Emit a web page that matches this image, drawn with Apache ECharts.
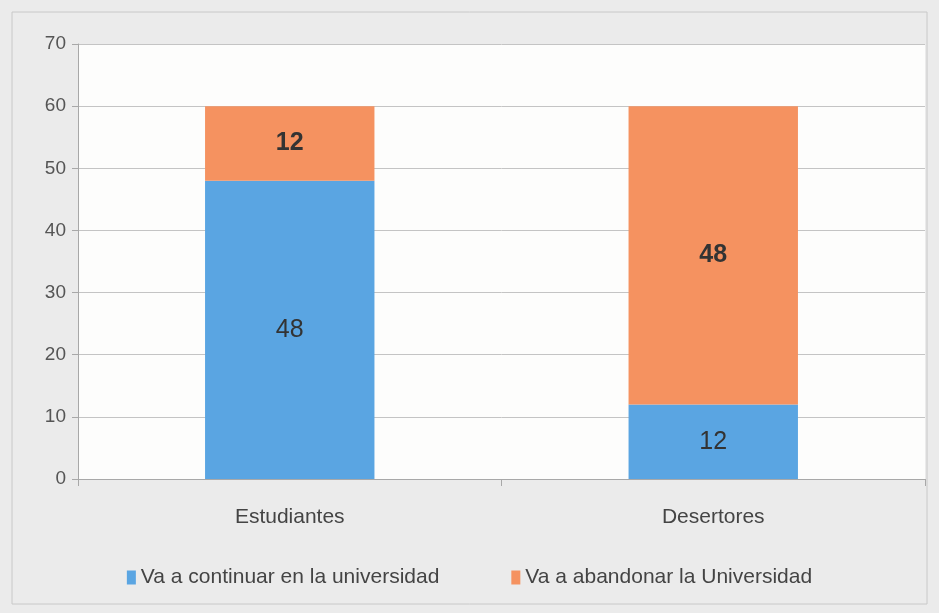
<!DOCTYPE html>
<html>
<head>
<meta charset="utf-8">
<script src="https://cdn.jsdelivr.net/npm/echarts@6/dist/echarts.min.js"></script>
<style>
  html, body { margin: 0; padding: 0; background: #ebebeb; }
  #chart { width: 939px; height: 613px; }
</style>
</head>
<body>
<div id="chart"></div>
<script>
const categories = ['Estudiantes', 'Desertores']
const continuar = [48, 12]
const abandonar = [12, 48]
const seriesNames = ['Va a continuar en la universidad', 'Va a abandonar la Universidad']

const chart = echarts.init(document.getElementById('chart'))

const labelFont = 'Liberation Sans, Arial, sans-serif'
const textFont = 'Liberation Sans Narrow, Liberation Sans, sans-serif'

chart.setOption({
  backgroundColor: '#ebebeb',
  animation: false,
  graphic: [{
    type: 'rect',
    shape: { x: 12, y: 12, width: 915, height: 592 },
    style: { fill: 'none', stroke: '#c8c8c8', lineWidth: 1 },
    z: -1,
  }],
  grid: {
    left: 78, right: 14, top: 44, bottom: 134,
    show: true, backgroundColor: '#fdfdfc', borderWidth: 0,
  },
  legend: {
    bottom: 20,
    left: 'center',
    itemGap: 72,
    itemWidth: 9,
    itemHeight: 14,
    icon: 'rect',
    textStyle: { fontFamily: textFont, fontSize: 21, color: '#444' },
    data: seriesNames,
  },
  xAxis: {
    type: 'category',
    data: categories,
    axisLine: { lineStyle: { color: '#a8a8a8' } },
    axisTick: { show: true, length: 7, lineStyle: { color: '#a8a8a8' } },
    axisLabel: { fontFamily: textFont, fontSize: 21, color: '#444', margin: 28 },
  },
  yAxis: {
    type: 'value',
    min: 0, max: 70, interval: 10,
    axisLine: { show: true, lineStyle: { color: '#a8a8a8' } },
    axisTick: { show: true, length: 6, lineStyle: { color: '#a8a8a8' } },
    axisLabel: { fontFamily: labelFont, fontSize: 19, color: '#555', margin: 12 },
    splitLine: { lineStyle: { color: '#c4c4c4' } },
  },
  series: [
    {
      name: seriesNames[0],
      type: 'bar',
      stack: 'total',
      data: continuar,
      barWidth: '40%',
      itemStyle: { color: '#5aa5e2' },
      label: { show: true, position: 'inside', fontFamily: labelFont, fontSize: 25, color: '#333' },
    },
    {
      name: seriesNames[1],
      type: 'bar',
      stack: 'total',
      data: abandonar,
      barWidth: '40%',
      itemStyle: { color: '#f59260' },
      label: { show: true, position: 'inside', fontFamily: labelFont, fontSize: 25, fontWeight: 'bold', color: '#333' },
    },
  ],
})
</script>
</body>
</html>
